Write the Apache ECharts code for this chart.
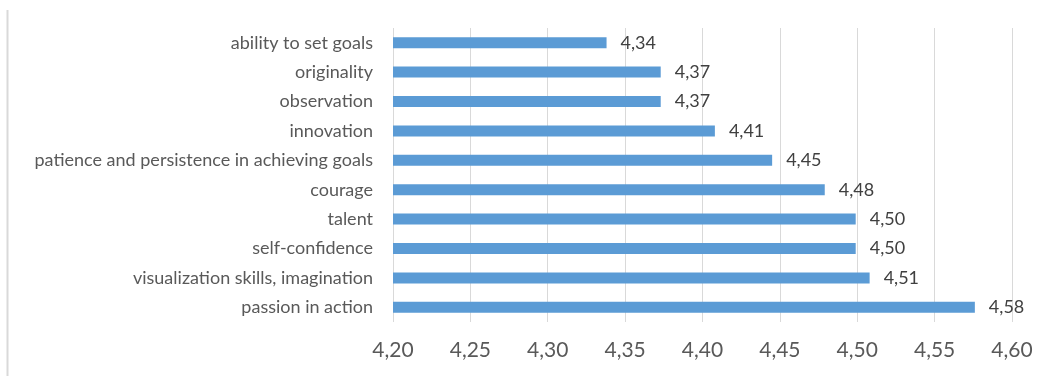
<!DOCTYPE html>
<html>
<head>
<meta charset="utf-8">
<script src="https://cdn.jsdelivr.net/npm/echarts@6/dist/echarts.min.js"></script>
<style>
html,body{margin:0;padding:0;background:#fff;}
#c{width:1047px;height:376px;}
</style>
</head>
<body>
<div id="c"></div>
<script>
const categories = [
  "ability to set goals",
  "originality",
  "observation",
  "innovation",
  "patience and persistence in achieving goals",
  "courage",
  "talent",
  "self-confidence",
  "visualization skills, imagination",
  "passion in action"
];
const values = [4.338, 4.373, 4.373, 4.408, 4.445, 4.479, 4.499, 4.499, 4.508, 4.576];
const axisMin = 4.20;
const axisMax = 4.60;
const axisStep = 0.05;

const fmt = v => Number(v).toFixed(2).replace('.', ',');

const chart = echarts.init(document.getElementById('c'), null, {renderer: 'canvas'});
chart.setOption({
  animation: false,
  backgroundColor: '#ffffff',
  textStyle: {fontFamily: 'Lato'},
  grid: {left: 393, right: 35, top: 28, bottom: 54, containLabel: false},
  graphic: [{
    type: 'rect',
    shape: {x: 6.5, y: 10, width: 2, height: 366},
    style: {fill: '#d9d9d9'},
    silent: true
  }],
  xAxis: {
    type: 'value',
    min: axisMin,
    max: axisMax,
    interval: axisStep,
    axisLine: {show: false},
    axisTick: {show: false},
    splitLine: {show: true, lineStyle: {color: '#d9d9d9', width: 1}},
    axisLabel: {
      formatter: fmt,
      color: '#595959',
      fontSize: 21,
      fontFamily: 'Lato',
      margin: 18
    }
  },
  yAxis: {
    type: 'category',
    data: categories,
    inverse: true,
    axisLine: {show: false},
    axisTick: {show: false},
    axisLabel: {
      color: '#595959',
      fontSize: 18,
      fontFamily: 'Lato',
      margin: 20
    }
  },
  series: [{
    type: 'bar',
    data: values,
    barWidth: 11,
    itemStyle: {color: '#5b9bd5'},
    label: {
      show: true,
      position: 'right',
      distance: 14,
      formatter: p => fmt(p.value),
      color: '#404040',
      fontSize: 18,
      fontFamily: 'Lato'
    }
  }]
});
</script>
</body>
</html>
